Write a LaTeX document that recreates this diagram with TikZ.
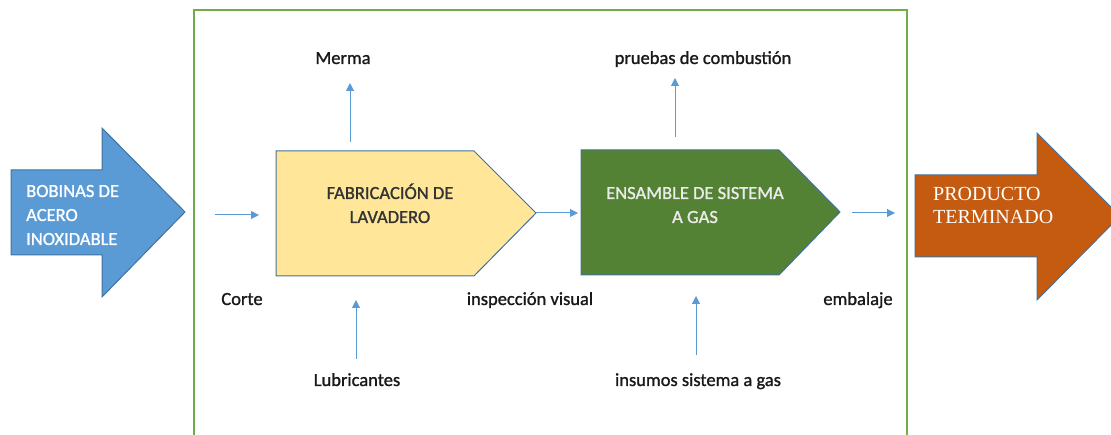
\documentclass[tikz,border=0pt]{standalone}
\usepackage{fontspec}
\setmainfont{Carlito}[FakeBold=1.2]
\newfontfamily\serifF{Liberation Serif}
\usetikzlibrary{arrows.meta}
\definecolor{flowblue}{HTML}{5B9BD5}
\definecolor{edgeblue}{HTML}{41719C}
\definecolor{fabyellow}{HTML}{FFE699}
\definecolor{ensgreen}{HTML}{548235}
\definecolor{prodorange}{HTML}{C55A11}
\definecolor{framegreen}{HTML}{70AD47}
\begin{document}
\begin{tikzpicture}[x=1pt,y=-1pt,
  flow/.style={draw=flowblue, line width=1pt, -{Triangle[length=8pt,width=8pt]}},
  lbl/.style={font=\fontsize{18.5}{23}\selectfont, text=black!90, inner sep=0pt, anchor=base},
  boxtxt/.style={font=\fontsize{18.5}{24}\selectfont, align=center, inner sep=0pt, anchor=base},
  shapeedge/.style={draw=edgeblue, line width=1pt}
]
\useasboundingbox (0,0) rectangle (1111,435);
\clip (0,0) rectangle (1111,435);
% frame
\draw[framegreen, line width=1.5pt] (194,445) -- (194,10) -- (907,10) -- (907,445);
% input arrow
\draw[shapeedge, fill=flowblue] (11,170) -- (102,170) -- (102,128) -- (185,212) -- (102,297) -- (102,255) -- (11,255) -- cycle;
\node[boxtxt, align=left, anchor=base west, text=white, font=\fontsize{18.5}{24}\selectfont] (bobinas) at (26,245) {BOBINAS DE\\ACERO\\INOXIDABLE};
% output arrow
\draw[shapeedge, fill=prodorange] (915,175) -- (1037,175) -- (1037,133) -- (1120,216) -- (1037,300) -- (1037,257) -- (915,257) -- cycle;
\node[boxtxt, align=left, anchor=base west, text=white, font=\serifF\fontsize{20}{23}\selectfont] (producto) at (933,224) {PRODUCTO\\TERMINADO};
% process boxes
\draw[shapeedge, fill=fabyellow] (276,151) -- (474,151) -- (536,213) -- (474,276) -- (276,276) -- cycle;
\node[boxtxt, text=black!80] (fab) at (390,223) {FABRICACIÓN DE\\LAVADERO};
\draw[shapeedge, fill=ensgreen] (581,150) -- (779,150) -- (840,212) -- (779,275) -- (581,275) -- cycle;
\node[boxtxt, text=white!92!black] (ens) at (695,223) {ENSAMBLE DE SISTEMA\\A GAS};
% connection points
\coordinate (corteA) at (215,215);
\coordinate (corteB) at (259,215);
\coordinate (fabtip) at (536,213);
\coordinate (ensleft) at (578,213);
\coordinate (outA) at (852,213);
\coordinate (outB) at (895,213);
\coordinate (mermaA) at (350,142);
\coordinate (mermaB) at (350,83);
\coordinate (lubA) at (356,359);
\coordinate (lubB) at (356,300);
\coordinate (pruA) at (675,137);
\coordinate (pruB) at (675,78);
\coordinate (insA) at (696,355);
\coordinate (insB) at (696,296);
% labels
\node[lbl] (merma) at (343,64) {Merma};
\node[lbl] (pruebas) at (703,64) {pruebas de combustión};
\node[lbl] (corte) at (242,305) {Corte};
\node[lbl] (insp) at (530,305) {inspección visual};
\node[lbl] (embalaje) at (858,305) {embalaje};
\node[lbl] (lubricantes) at (357,386) {Lubricantes};
\node[lbl] (insumos) at (698,386) {insumos sistema a gas};
% connectors
\draw[flow] (corteA) -- (corteB);
\draw[flow] (fabtip) -- (ensleft);
\draw[flow] (outA) -- (outB);
\draw[flow] (mermaA) -- (mermaB);
\draw[flow] (lubA) -- (lubB);
\draw[flow] (pruA) -- (pruB);
\draw[flow] (insA) -- (insB);
\end{tikzpicture}
\end{document}
